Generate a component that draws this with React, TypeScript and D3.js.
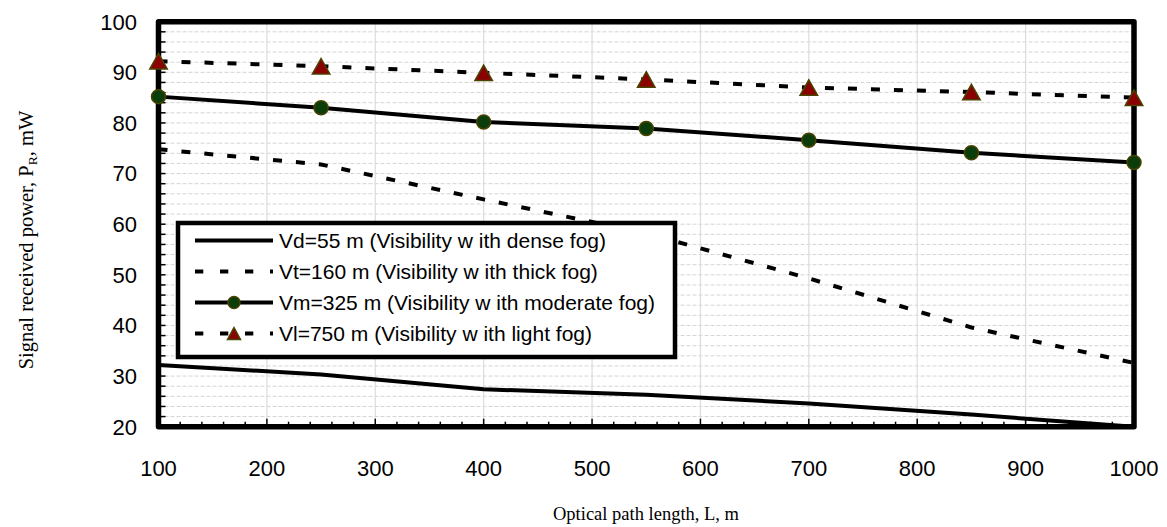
import React from "react";
import * as d3 from "d3";

const distances = [100, 250, 400, 550, 700, 850, 1000];
const vdValues = [32.2, 30.3, 27.4, 26.3, 24.6, 22.4, 20.0];
const vtValues = [74.8, 71.8, 64.9, 58.2, 49.3, 39.6, 32.6];
const vmValues = [85.2, 83.0, 80.2, 78.9, 76.6, 74.1, 72.2];
const vlValues = [92.2, 91.2, 89.9, 88.6, 87.0, 86.1, 85.0];

const xTicks = [100, 200, 300, 400, 500, 600, 700, 800, 900, 1000];
const yTicks = [20, 30, 40, 50, 60, 70, 80, 90, 100];

const legendLabels = [
  "Vd=55 m (Visibility w ith dense fog)",
  "Vt=160 m (Visibility w ith thick fog)",
  "Vm=325 m (Visibility w ith moderate fog)",
  "Vl=750 m (Visibility w ith light fog)",
];

const W = 1167;
const H = 527;
const L = 158.5, R = 1134, T = 21.7, B = 426.7;

export default function App() {
  const x = d3.scaleLinear().domain([100, 1000]).range([L, R]);
  const y = d3.scaleLinear().domain([20, 100]).range([B, T]);

  const mk = (vals: number[]) =>
    d3.line<number>().x((_, i) => x(distances[i])).y((v) => y(v))(vals) || "";

  const series = [
    { vals: vdValues, dash: null, marker: null },
    { vals: vtValues, dash: "9,14", marker: null },
    { vals: vmValues, dash: null, marker: "circle" },
    { vals: vlValues, dash: "9,14", marker: "triangle" },
  ];

  const minorY = d3.range(20, 100.01, 2);
  const minorX = d3.range(100, 1000.01, 20);

  const tri = (cx: number, cy: number, w: number, h: number) =>
    `M${cx},${cy - h / 2}L${cx + w / 2},${cy + h / 2}L${cx - w / 2},${cy + h / 2}Z`;

  const drawMarker = (type: string | null, cx: number, cy: number, key: string, small = false) => {
    if (type === "circle")
      return <circle key={key} cx={cx} cy={cy} r={small ? 6 : 7} fill="#0b3d0b" stroke="#4a4200" strokeWidth={1.5} />;
    if (type === "triangle")
      return <path key={key} d={small ? tri(cx, cy, 13, 12) : tri(cx, cy, 17.5, 15.5)} fill="#8b0000" stroke="#4a4200" strokeWidth={1.5} />;
    return null;
  };

  const legendRows = [240.5, 271.5, 302.5, 333.5];

  return (
    <svg width={W} height={H} style={{ position: "absolute", left: 0, top: 0, background: "#fff" }}>
      <rect x={0} y={0} width={W} height={H} fill="#fff" />
      {minorY.map((v) => (
        <line key={"gy" + v} x1={L} x2={R} y1={y(v)} y2={y(v)} stroke="#d4d4d4" strokeWidth={1} strokeDasharray="4,2" />
      ))}
      {xTicks.map((v) => (
        <line key={"gx" + v} x1={x(v)} x2={x(v)} y1={T} y2={B} stroke="#dcdcdc" strokeWidth={1.2} />
      ))}
      {minorY.map((v) => (
        <line key={"ty" + v} x1={L} x2={L + 7} y1={y(v)} y2={y(v)} stroke="#000" strokeWidth={1.5} />
      ))}
      {minorX.map((v) => (
        <line key={"tx" + v} x1={x(v)} x2={x(v)} y1={B} y2={B - (v % 100 === 0 ? 8 : 5)} stroke="#000" strokeWidth={1.5} />
      ))}
      <rect x={L} y={T} width={R - L} height={B - T} fill="none" stroke="#000" strokeWidth={5.5} strokeLinejoin="round" />
      {yTicks.map((v) => (
        <text key={"ly" + v} x={137} y={y(v)} dy="0.36em" textAnchor="end" fontFamily="'Liberation Sans', Arial, sans-serif" fontSize={22} fill="#000">
          {v}
        </text>
      ))}
      {xTicks.map((v) => (
        <text key={"lx" + v} x={x(v)} y={476} textAnchor="middle" fontFamily="'Liberation Sans', Arial, sans-serif" fontSize={22} fill="#000">
          {v}
        </text>
      ))}
      <text x={646} y={520} textAnchor="middle" fontFamily="'Liberation Serif', 'Times New Roman', serif" fontSize={18.5} fill="#000">
        Optical path length, L, m
      </text>
      <text transform="translate(33,240) rotate(-90)" textAnchor="middle" fontFamily="'Liberation Serif', 'Times New Roman', serif" fontSize={20.5} fill="#000">
        Signal received power, P<tspan fontSize={13.5} dy={4}>R</tspan><tspan dy={-4}>, mW</tspan>
      </text>
      {series.map((s, i) => (
        <path key={"s" + i} d={mk(s.vals)} fill="none" stroke="#000" strokeWidth={4} strokeDasharray={s.dash || undefined} strokeLinejoin="round" />
      ))}
      {series.map((s, i) =>
        s.marker ? s.vals.map((v, j) => drawMarker(s.marker, x(distances[j]), y(v), `m${i}-${j}`)) : null
      )}
      <rect x={178} y={223} width={497} height={134} fill="#fff" stroke="#000" strokeWidth={4.5} />
      {series.map((s, i) => (
        <g key={"lg" + i}>
          <line x1={195} x2={273} y1={legendRows[i]} y2={legendRows[i]} stroke="#000" strokeWidth={4} strokeDasharray={s.dash ? "8.3,16.7" : undefined} />
          {drawMarker(s.marker, 234, legendRows[i], "lm" + i, true)}
          <text x={279} y={legendRows[i]} dy="0.36em" fontFamily="'Liberation Sans', Arial, sans-serif" fontSize={21} fill="#000">
            {legendLabels[i]}
          </text>
        </g>
      ))}
    </svg>
  );
}
